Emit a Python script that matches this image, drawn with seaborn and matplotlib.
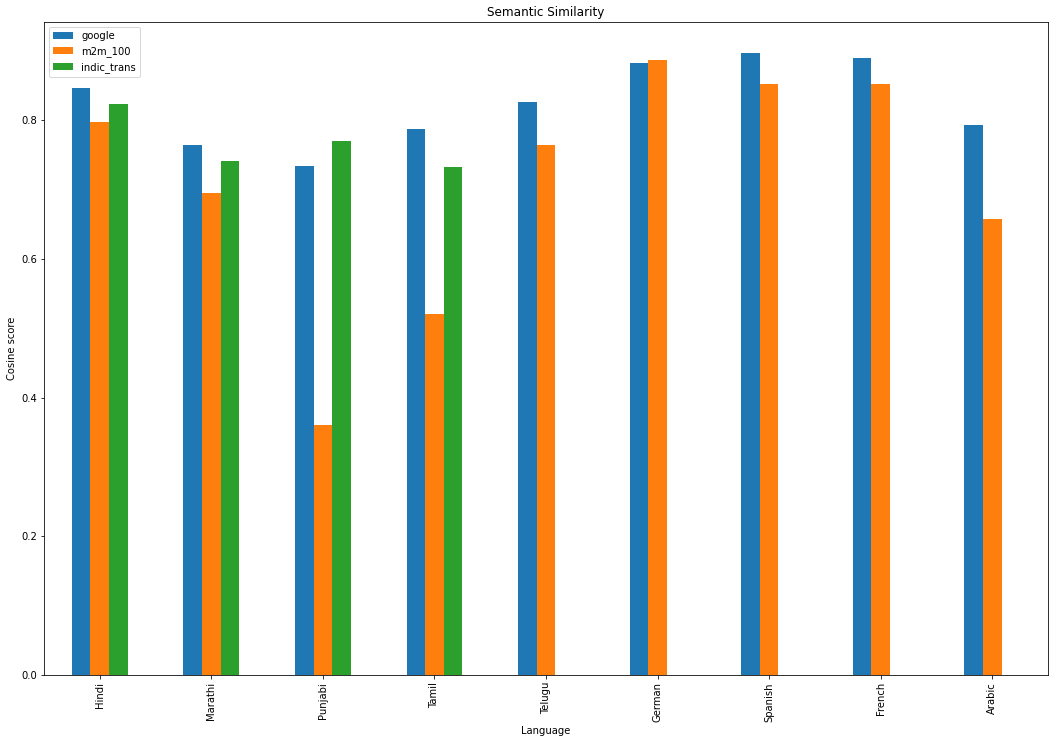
import numpy as np
import pandas as pd
import matplotlib
matplotlib.use("Agg")
import matplotlib.pyplot as plt
import seaborn as sns

languages = ["Hindi", "Marathi", "Punjabi", "Tamil", "Telugu", "German", "Spanish", "French", "Arabic"]
google = [0.846, 0.765, 0.734, 0.788, 0.827, 0.882, 0.897, 0.890, 0.794]
m2m_100 = [0.797, 0.695, 0.361, 0.521, 0.764, 0.887, 0.853, 0.852, 0.658]
indic_trans = [0.823, 0.741, 0.770, 0.732, np.nan, np.nan, np.nan, np.nan, np.nan]
models = ["google", "m2m_100", "indic_trans"]

df = pd.DataFrame({"Language": languages, "google": google,
                   "m2m_100": m2m_100, "indic_trans": indic_trans})
long = df.melt(id_vars="Language", value_vars=models, var_name="model", value_name="score")

fig = plt.figure(figsize=(1055 / 72, 743 / 72), dpi=72)
ax = fig.add_axes([44 / 1055, 1 - 675 / 743, (1048 - 44) / 1055, (675 - 22) / 743])

palette = ["#1f77b4", "#ff7f0e", "#2ca02c"]
sns.barplot(data=long, x="Language", y="score", hue="model", hue_order=models,
            order=languages, palette=palette, width=0.5, saturation=1,
            errorbar=None, ax=ax)

ax.set_title("Semantic Similarity")
ax.set_xlabel("Language")
ax.set_ylabel("Cosine score")
ax.set_xlim(-0.5, len(languages) - 0.5)
ax.set_ylim(0, max(max(google), max(m2m_100)) * 1.05)
ax.set_yticks([0.0, 0.2, 0.4, 0.6, 0.8])
ax.tick_params(axis="x", labelrotation=90)
ax.legend(loc="upper left", title=None)

fig.savefig("out.png", dpi=72)
